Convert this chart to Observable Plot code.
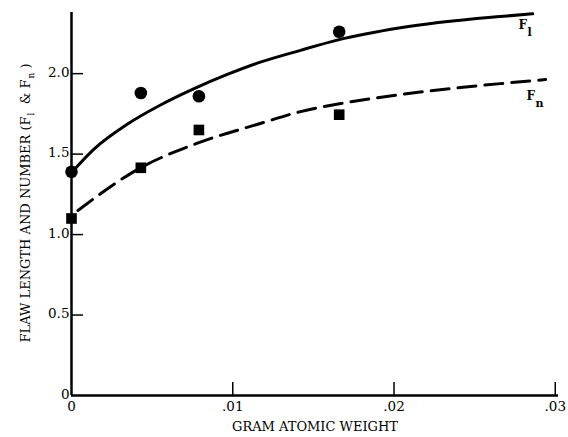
<!DOCTYPE html>
<html><head><meta charset="utf-8">
<script src="https://cdn.jsdelivr.net/npm/d3@7"></script>
<script src="https://cdn.jsdelivr.net/npm/@observablehq/plot@0.6"></script>
<style>body{margin:0;background:#fff} svg{display:block}</style>
</head><body><div id="chart"></div>
<script>
// measured points
const lengthX = [0, 0.0043, 0.0079, 0.0166];
const lengthY = [1.39, 1.88, 1.86, 2.26];
const numberX = [0, 0.0043, 0.0079, 0.0166];
const numberY = [1.10, 1.415, 1.65, 1.745];
// fitted curves
const fitLX = [0, 0.00138, 0.00345, 0.00552, 0.00757, 0.00966, 0.01152, 0.0142, 0.01654, 0.0204, 0.0266, 0.0286];
const fitLY = [1.385, 1.53, 1.685, 1.805, 1.905, 1.995, 2.065, 2.145, 2.21, 2.285, 2.355, 2.372];
const fitNX = [0.0004, 0.0043, 0.0079, 0.0117, 0.0142, 0.0167, 0.0204, 0.0235, 0.0266, 0.0294];
const fitNY = [1.15, 1.416, 1.571, 1.69, 1.764, 1.814, 1.87, 1.907, 1.938, 1.963];
// curve labels
const curveLabelX = [0.02772, 0.02822];
const curveLabelY = [2.28, 1.839];
const curveLabelSub = ["l", "n"];
// ticks
const xTicks = [0, 0.01, 0.02, 0.03];
const xTickLabels = ["0", ".01", ".02", ".03"];
const yTicks = [0, 0.5, 1, 1.5, 2];
const yTickLabels = ["0", "0.5", "1.0", "1.5", "2.0"];
const xTitle = "GRAM ATOMIC WEIGHT";

const pts = (xs, ys) => xs.map((x, i) => ({x, y: ys[i]}));
const lengthPts = pts(lengthX, lengthY);
const numberPts = pts(numberX, numberY);
const fitL = pts(fitLX, fitLY);
const fitN = pts(fitNX, fitNY);
const labels = curveLabelX.map((x, i) => ({x, y: curveLabelY[i], sub: curveLabelSub[i]}));

const xFmt = d => xTickLabels[xTicks.indexOf(d)];
const yFmt = d => yTickLabels[yTicks.indexOf(d)];

const plot = Plot.plot({
  width: 568, height: 437,
  marginLeft: 71, marginRight: 10, marginTop: 12, marginBottom: 42,
  style: {fontFamily: "'DejaVu Serif', serif", fontSize: "13px", color: "#000", background: "#fff"},
  x: {domain: [0, 0.0302]},
  y: {domain: [0, 2.38]},
  marks: [
    Plot.axisX(xTicks, {tickSize: 0, tickPadding: 6, tickFormat: xFmt, label: null, fontSize: 13.5}),
    Plot.axisX(xTicks.slice(1), {tickSize: -13, tickFormat: () => "", label: null, strokeWidth: 1.5}),
    Plot.axisY(yTicks, {tickSize: 0, tickPadding: 2, tickFormat: yFmt, label: null, fontSize: 13.5, dy: -1}),
    Plot.axisY(yTicks.slice(1), {tickSize: -12, tickFormat: () => "", label: null, strokeWidth: 1.5}),
    Plot.ruleX([0], {strokeWidth: 2.5}),
    Plot.ruleY([0], {strokeWidth: 2.5}),
    Plot.line(fitL, {x: "x", y: "y", curve: "monotone-x", strokeWidth: 3}),
    Plot.line(fitN, {x: "x", y: "y", curve: "monotone-x", strokeWidth: 3, strokeDasharray: "18,9"}),
    Plot.dot(lengthPts, {x: "x", y: "y", r: 6.3, fill: "#000", stroke: null}),
    Plot.dot(numberPts, {x: "x", y: "y", r: 6, symbol: "square", fill: "#000", stroke: null}),
    Plot.text(labels, {x: "x", y: "y", text: () => "F", textAnchor: "start", lineAnchor: "bottom", fontSize: 12, fontWeight: "bold"}),
    Plot.text(labels, {x: "x", y: "y", text: "sub", textAnchor: "start", lineAnchor: "bottom", fontSize: 11, fontWeight: "bold", dx: 9, dy: 7}),
    Plot.text([xTitle], {frameAnchor: "bottom", text: d => d, lineAnchor: "bottom", dy: 35, fontSize: 13})
  ]
});

const svg = d3.select(plot);
const t = svg.append("text")
  .attr("transform", "translate(30,203) rotate(-90)")
  .attr("text-anchor", "middle")
  .attr("font-size", 13)
  .attr("fill", "#000");
t.append("tspan").text("FLAW LENGTH AND NUMBER (F");
t.append("tspan").attr("font-size", 9).attr("dy", 4).attr("dx", 1).text("l");
t.append("tspan").attr("dy", -4).text("  & F");
t.append("tspan").attr("font-size", 9).attr("dy", 4).attr("dx", 1).text("n");
t.append("tspan").attr("dy", -4).text(" )");

document.getElementById("chart").appendChild(plot);
</script>
</body></html>
